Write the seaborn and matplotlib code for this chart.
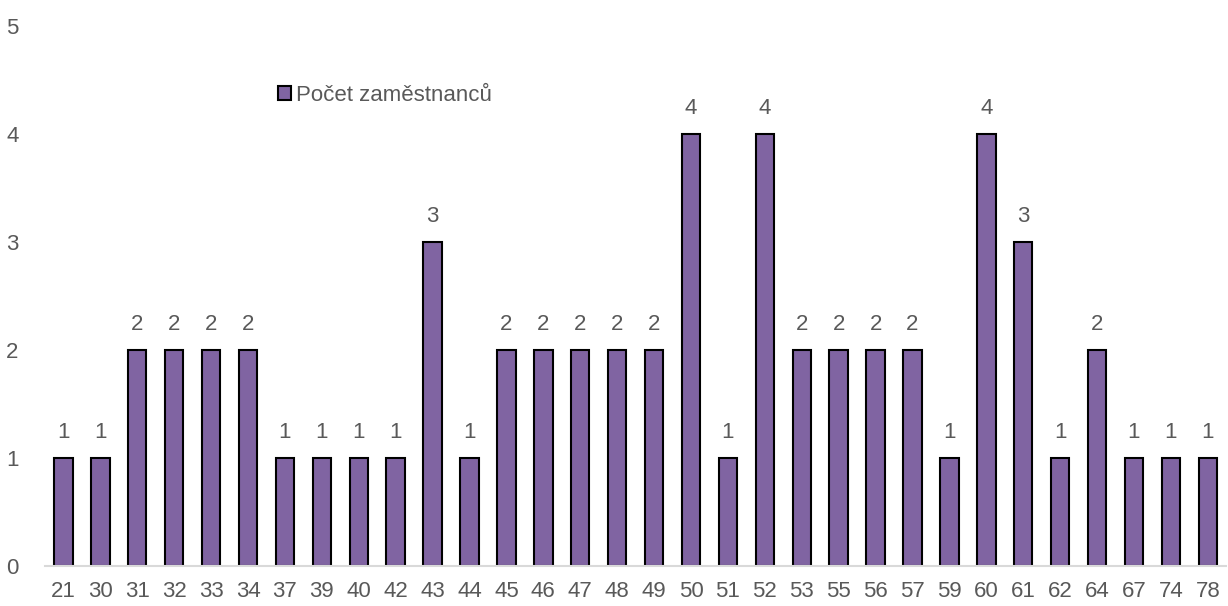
import matplotlib
matplotlib.use("Agg")
import matplotlib.pyplot as plt
import pandas as pd
import seaborn as sns

ages = ['21', '30', '31', '32', '33', '34', '37', '39', '40', '42', '43', '44', '45', '46', '47', '48',
        '49', '50', '51', '52', '53', '55', '56', '57', '59', '60', '61', '62', '64', '67', '74', '78']
counts = [1, 1, 2, 2, 2, 2, 1, 1, 1, 1, 3, 1, 2, 2, 2, 2,
          2, 4, 1, 4, 2, 2, 2, 2, 1, 4, 3, 1, 2, 1, 1, 1]
series_name = 'Počet zaměstnanců'

df = pd.DataFrame({'vek': ages, 'pocet': counts})

sns.set_theme(style='white')
plt.rcParams['font.family'] = ['Liberation Sans Narrow', 'Liberation Sans', 'DejaVu Sans']
text_col = '#595959'
fs = 16

fig = plt.figure(figsize=(12.28, 6.06), dpi=100)
ax = fig.add_axes([0.0366, 0.066, 0.962, 0.891])

sns.barplot(data=df, x='vek', y='pocet', color='#8064A2', saturation=1,
            edgecolor='black', linewidth=1.5, width=0.5, label=series_name, ax=ax)

for cont in ax.containers:
    ax.bar_label(cont, fmt='%d', padding=11, fontsize=fs, color=text_col)

ax.set_ylim(0, 5)
ax.set_xlim(-0.5, len(ages) - 0.5)
ax.set_yticks(range(0, 6))
ax.set_xlabel('')
ax.set_ylabel('')
ax.tick_params(axis='both', labelsize=fs, colors=text_col, length=0)
ax.tick_params(axis='y', pad=19)
ax.tick_params(axis='x', pad=11)

for s in ['top', 'right', 'left']:
    ax.spines[s].set_visible(False)
ax.spines['bottom'].set_color('#d9d9d9')
ax.spines['bottom'].set_linewidth(1.5)

leg = ax.legend(loc='center left', bbox_to_anchor=(0.18, 0.872), frameon=False,
                fontsize=fs, handlelength=0.6, handleheight=0.6, handletextpad=0.25,
                labelcolor=text_col)

fig.savefig('out.png', dpi=100)
